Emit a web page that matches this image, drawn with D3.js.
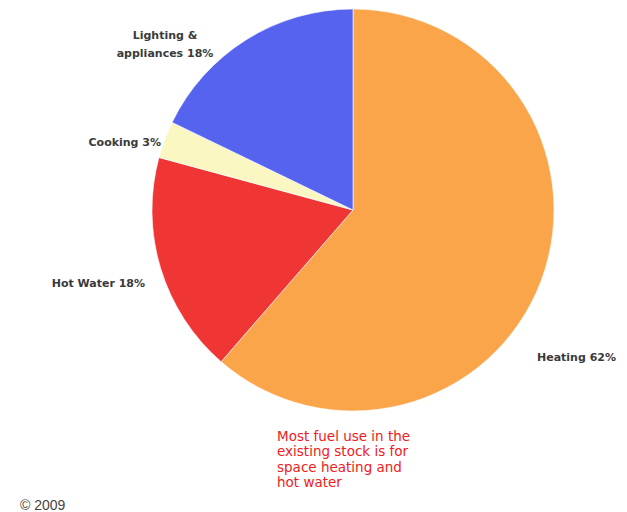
<!DOCTYPE html>
<html>
<head>
<meta charset="utf-8">
<script src="https://cdn.jsdelivr.net/npm/d3@7"></script>
<style>
  html, body { margin: 0; padding: 0; background: #fff; }
  svg { display: block; }
</style>
</head>
<body>
<svg id="chart" width="627" height="512"></svg>
<script>
// ---- data ----
const categories = ["Heating", "Hot Water", "Cooking", "Lighting & appliances"];
const values = [62, 18, 3, 18];
const colors = ["#FBA54B", "#F03535", "#FBF7C2", "#5563EF"];
const labelLines = [["Heating 62%"], ["Hot Water 18%"], ["Cooking 3%"], ["Lighting &", "appliances 18%"]];
const noteLines = ["Most fuel use in the", "existing stock is for", "space heating and", "hot water"];
const footer = "\u00A9 2009";

// ---- layout (not data) ----
const cx = 353, cy = 210, radius = 201;
const labelPos = [
  { x: 537, y: 361, anchor: "start" },
  { x: 145, y: 287, anchor: "end" },
  { x: 161, y: 146, anchor: "end" },
  { x: 165, y: 39, anchor: "middle" }
];

const svg = d3.select("#chart");
const g = svg.append("g").attr("transform", `translate(${cx},${cy})`);

const pie = d3.pie().sort(null).value(d => d.v);
const data = categories.map((c, i) => ({ c, v: values[i], i }));
const arcs = pie(data);
const arc = d3.arc().innerRadius(0).outerRadius(radius);

g.selectAll("path.slice")
  .data(arcs)
  .enter().append("path")
  .attr("class", "slice")
  .attr("d", arc)
  .attr("fill", d => colors[d.data.i])
  .attr("stroke", "#fff")
  .attr("stroke-width", 0.6);

// slice labels
const lab = svg.append("g")
  .attr("font-family", "'DejaVu Sans', sans-serif")
  .attr("font-size", "11px")
  .attr("font-weight", "bold")
  .attr("fill", "#3a3a3a");

labelLines.forEach((lines, i) => {
  const p = labelPos[i];
  const t = lab.append("text")
    .attr("x", p.x).attr("y", p.y)
    .attr("text-anchor", p.anchor);
  lines.forEach((ln, k) => {
    t.append("tspan").attr("x", p.x).attr("dy", k === 0 ? 0 : 18).text(ln);
  });
});

// annotation
const note = svg.append("text")
  .attr("x", 277).attr("y", 441)
  .attr("font-family", "'DejaVu Sans', sans-serif")
  .attr("font-size", "13.5px")
  .attr("fill", "#F02020");
noteLines.forEach((ln, k) => {
  note.append("tspan").attr("x", 277).attr("dy", k === 0 ? 0 : 15.3).text(ln);
});

svg.append("text")
  .attr("x", 20).attr("y", 510)
  .attr("font-family", "'Liberation Sans', Arial, sans-serif")
  .attr("font-size", "14px")
  .attr("fill", "#444")
  .text(footer);
</script>
</body>
</html>
